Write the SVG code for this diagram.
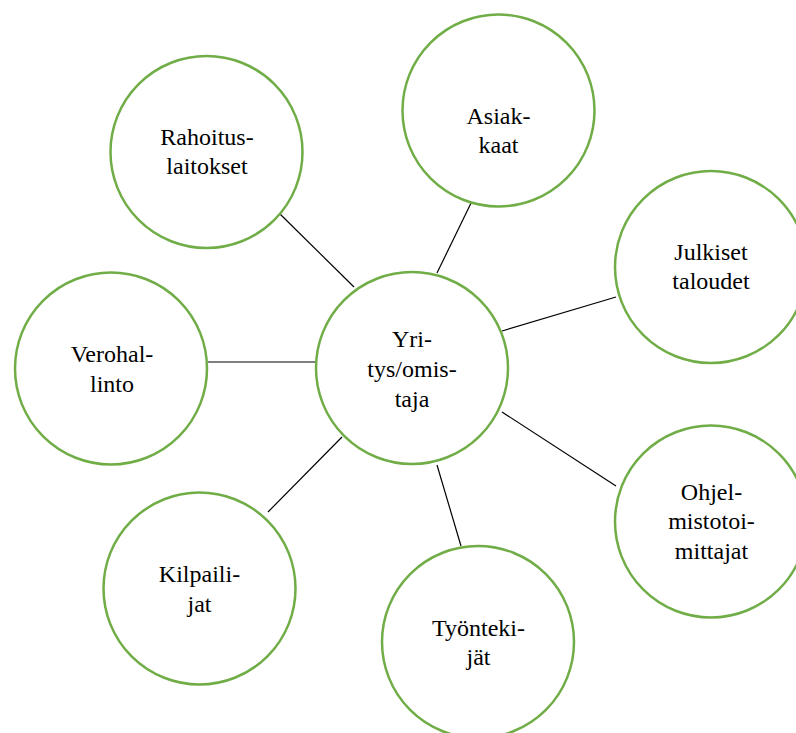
<svg xmlns="http://www.w3.org/2000/svg" width="796" height="733" viewBox="0 0 796 733">
<style>
.n{fill:#fff;stroke:#70AD47;stroke-width:2.5}
.t{font-family:'Liberation Serif',Tinos,'Times New Roman',Times,'DejaVu Serif',serif;font-size:24px;fill:#000;text-anchor:middle}
.c line{stroke:#000;stroke-width:1.2}
</style>
<rect width="796" height="733" fill="#fff"/>
<g class="c" id="connectors">
<line x1="280" y1="214" x2="354" y2="287"/>
<line x1="473" y1="199" x2="437" y2="273"/>
<line x1="616" y1="297" x2="502" y2="331"/>
<line x1="208" y1="362" x2="316" y2="362"/>
<line x1="502" y1="412" x2="616" y2="486"/>
<line x1="268" y1="512" x2="342" y2="437"/>
<line x1="437" y1="465" x2="461" y2="546"/>
</g>
<g id="center"><circle class="n" cx="412" cy="368" r="96"/><text class="t" x="412"><tspan x="412" y="347">Yri-</tspan><tspan x="412" y="377">tys/omis-</tspan><tspan x="412" y="407">taja</tspan></text></g>
<g id="asiakkaat"><circle class="n" cx="498.5" cy="110.5" r="96"/><text class="t"><tspan x="498.5" y="124">Asiak-</tspan><tspan x="498.5" y="153">kaat</tspan></text></g>
<g id="rahoitus"><circle class="n" cx="206.5" cy="152" r="96"/><text class="t"><tspan x="207" y="145">Rahoitus-</tspan><tspan x="207" y="174">laitokset</tspan></text></g>
<g id="julkiset"><circle class="n" cx="711" cy="267" r="96"/><text class="t"><tspan x="711" y="260">Julkiset</tspan><tspan x="711" y="289">taloudet</tspan></text></g>
<g id="verohallinto"><circle class="n" cx="111" cy="368.5" r="96"/><text class="t"><tspan x="112" y="362">Verohal-</tspan><tspan x="112" y="392">linto</tspan></text></g>
<g id="ohjelmisto"><circle class="n" cx="711" cy="521.5" r="96"/><text class="t"><tspan x="711.5" y="500">Ohjel-</tspan><tspan x="711.5" y="529">mistotoi-</tspan><tspan x="711.5" y="559">mittajat</tspan></text></g>
<g id="kilpailijat"><circle class="n" cx="199.5" cy="588.5" r="96"/><text class="t"><tspan x="199.5" y="582">Kilpaili-</tspan><tspan x="199.5" y="612">jat</tspan></text></g>
<g id="tyontekijat"><circle class="n" cx="478" cy="642" r="96"/><text class="t"><tspan x="478.5" y="636">Työnteki-</tspan><tspan x="478.5" y="665">jät</tspan></text></g>
</svg>
